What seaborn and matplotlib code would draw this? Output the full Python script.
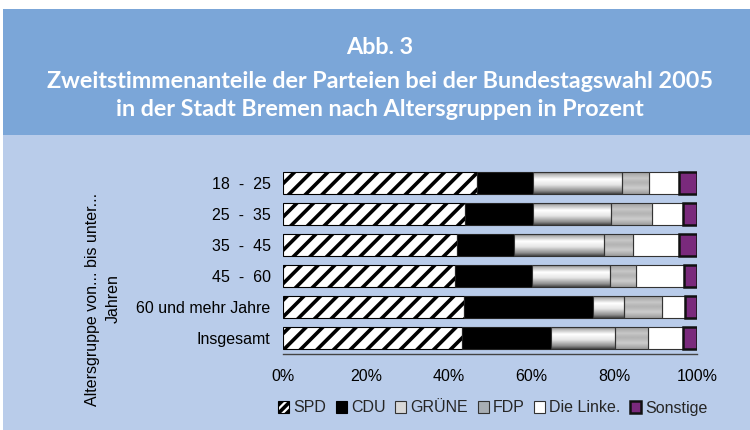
import numpy as np
import pandas as pd
import matplotlib
matplotlib.use("Agg")
import matplotlib.pyplot as plt
from matplotlib.patches import Rectangle, Patch
import seaborn as sns

# Daten
altersgruppen = ["18  -  25", "25  -  35", "35  -  45", "45  -  60",
                 "60 und mehr Jahre", "Insgesamt"]
parteien = ["SPD", "CDU", "GRÜNE", "FDP", "Die Linke.", "Sonstige"]
spd = [46.9, 44.0, 42.1, 41.5, 43.6, 43.2]
cdu = [13.4, 16.5, 13.8, 18.7, 31.2, 21.5]
gruene = [21.6, 18.7, 21.7, 18.8, 7.6, 15.4]
fdp = [6.6, 10.0, 6.9, 6.3, 9.1, 8.0]
linke = [7.1, 7.3, 11.1, 11.5, 5.5, 8.4]
sonstige = [4.4, 3.5, 4.4, 3.2, 3.0, 3.5]
x_ticks = [0, 20, 40, 60, 80, 100]

df = pd.DataFrame({"Altersgruppe": altersgruppen, "SPD": spd, "CDU": cdu,
                   "GRÜNE": gruene, "FDP": fdp, "Die Linke.": linke,
                   "Sonstige": sonstige})

sns.set_style("white")
plt.rcParams["font.family"] = ["Liberation Sans", "DejaVu Sans"]
plt.rcParams["hatch.linewidth"] = 2.6

HEAD_BLUE = "#7BA6D8"
BODY_BLUE = "#B9CCEA"
FS = 11.5

# Stil je Partei
stil = {
    "SPD": dict(color="white", hatch="//", edgecolor="black", linewidth=0.8),
    "CDU": dict(color="black", edgecolor="#222222", linewidth=0.8),
    "GRÜNE": dict(color="#C8C8C8", edgecolor="#333333", linewidth=0.8),
    "FDP": dict(color="#A8AEB4", edgecolor="#333333", linewidth=0.8),
    "Die Linke.": dict(color="white", edgecolor="#333333", linewidth=0.8),
    "Sonstige": dict(color="#7A2A7C", edgecolor="#111111", linewidth=1.8),
}

fig = plt.figure(figsize=(7.5, 4.3), dpi=100, facecolor="white")
# Hintergrundflaechen
fig.add_artist(Rectangle((3 / 750, 0), 1, 1 - 135 / 430, transform=fig.transFigure,
                         facecolor=BODY_BLUE, edgecolor="none", zorder=-3))
fig.add_artist(Rectangle((3 / 750, 1 - 135 / 430), 1, 126 / 430, transform=fig.transFigure,
                         facecolor=HEAD_BLUE, edgecolor="none", zorder=-3))

ax = fig.add_axes([283 / 750, 1 - 353.5 / 430, 414 / 750, 186 / 430])
ax.set_facecolor("none")

links = np.zeros(len(altersgruppen))
for partei in parteien:
    sns.barplot(data=df, x=partei, y="Altersgruppe", order=altersgruppen, orient="y",
                left=links.copy(), width=0.72, saturation=1, ax=ax, **stil[partei])
    links += df[partei].values

    # Verlauf fuer GRÜNE und FDP
    if partei in ("GRÜNE", "FDP"):
        t = np.linspace(0, 1, 24)
        if partei == "GRÜNE":
            # oben grau, bei ca. 35 % weiss, nach unten wieder dunkler
            grad = np.interp(t, [0, 0.12, 0.35, 0.6, 0.88, 1], [0.35, 0.7, 1.0, 0.9, 0.55, 0.3])
        else:
            grad = np.interp(t, [0, 0.3, 0.5, 0.75, 1], [0.6, 0.78, 0.7, 0.8, 0.62])
        grad = grad.reshape(-1, 1)
        for bar in ax.containers[-1]:
            x0, y0 = bar.get_x(), bar.get_y()
            w, h = bar.get_width(), bar.get_height()
            im = ax.imshow(grad, cmap="gray", vmin=0, vmax=1, aspect="auto",
                           extent=(x0, x0 + w, y0 + h, y0), interpolation="bilinear",
                           interpolation_stage="rgba", zorder=1.5)
            im.set_clip_path(bar)
            bar.set_facecolor("none")
            bar.set_zorder(2)

ax.set_xlim(0, 100)
ax.set_ylim(len(altersgruppen) - 0.5, -0.5)
ax.set_xticks(x_ticks)
ax.set_xticklabels([f"{v}%" for v in x_ticks])
ax.set_xlabel("")
ax.set_ylabel("")
for s in ["top", "right", "left"]:
    ax.spines[s].set_visible(False)
ax.spines["bottom"].set_color("#444444")
ax.spines["bottom"].set_linewidth(1.0)
ax.tick_params(axis="x", direction="out", length=4, width=1, color="#444444",
               pad=7, labelsize=FS, labelcolor="black")
ax.tick_params(axis="y", length=0, pad=9, labelsize=FS, labelcolor="black")

# Achsentitel
fig.text(103 / 750, 1 - 299 / 430, "Altersgruppe von... bis unter...\nJahren",
         rotation=90, ha="center", va="center", multialignment="center",
         fontsize=FS, linespacing=1.45, color="black")

# Titel
titel = ["Abb. 3",
         "Zweitstimmenanteile der Parteien bei der Bundestagswahl 2005",
         "in der Stadt Bremen nach Altersgruppen in Prozent"]
for zeile, ypix in zip(titel, [47, 81, 109]):
    fig.text(380 / 750, 1 - ypix / 430, zeile, ha="center", va="center",
             color="white", fontsize=16.8, fontweight="bold",
             family=["Lato", "DejaVu Sans"])

# Legende
handles = [
    Patch(facecolor="white", edgecolor="black", hatch="////", linewidth=0.8),
    Patch(facecolor="black", edgecolor="black", linewidth=0.8),
    Patch(facecolor="#D8D8D8", edgecolor="#333333", linewidth=0.8),
    Patch(facecolor="#A8AEB4", edgecolor="#333333", linewidth=0.8),
    Patch(facecolor="white", edgecolor="#333333", linewidth=0.8),
    Patch(facecolor="#7A2A7C", edgecolor="#111111", linewidth=1.8),
]
fig.legend(handles, parteien, loc="center", bbox_to_anchor=(493 / 750, 1 - 408 / 430),
           ncol=6, frameon=False, fontsize=FS, handlelength=0.7, handleheight=0.7,
           handletextpad=0.25, columnspacing=0.6, borderaxespad=0)

fig.savefig("out.png", dpi=100)
